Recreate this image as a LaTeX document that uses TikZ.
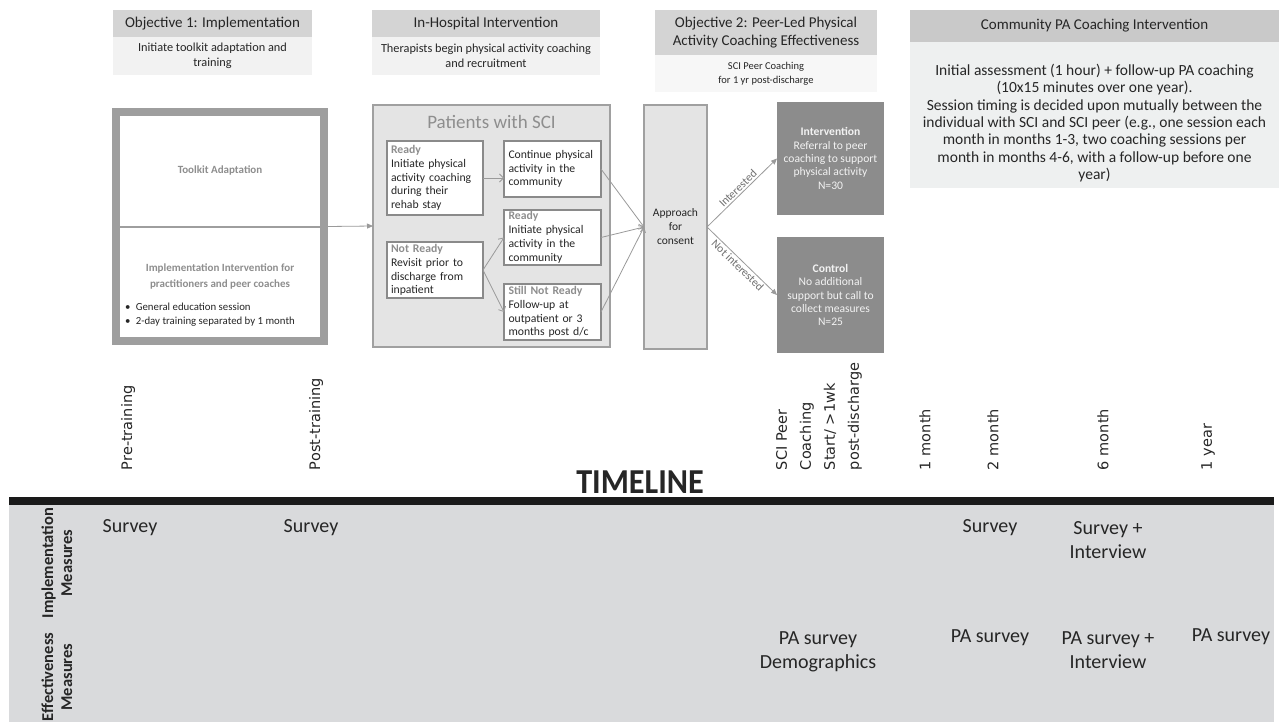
\documentclass[tikz,border=0pt]{standalone}
\usepackage{fontspec}
\setmainfont{Carlito}
\newfontfamily\tlfont{DejaVu Sans}
\usetikzlibrary{arrows.meta}
\definecolor{txt}{HTML}{262626}
\definecolor{hdrgray}{HTML}{D4D4D4}
\definecolor{subgray}{HTML}{F2F2F2}
\definecolor{tkgray}{HTML}{9E9E9E}
\definecolor{patfill}{HTML}{E4E4E4}
\definecolor{patdraw}{HTML}{A0A0A0}
\definecolor{inborder}{HTML}{8A8A8A}
\definecolor{lblgray}{HTML}{8E8E8E}
\definecolor{intfill}{HTML}{8C8C8C}
\definecolor{inttext}{HTML}{F2F2F2}
\definecolor{comhdr}{HTML}{C9C9C9}
\definecolor{combody}{HTML}{EEF0F0}
\definecolor{tblgray}{HTML}{D9DADC}
\definecolor{barblack}{HTML}{1A1A1A}
\definecolor{arrgray}{HTML}{9A9A9A}
\definecolor{arrtxt}{HTML}{6E6E6E}
\newcommand\graylbl[1]{{\color{lblgray}\bfseries #1}}
\begin{document}
\begin{tikzpicture}[x=1pt,y=-1pt,
  every node/.style={inner sep=0pt, outer sep=0pt},
  hdrbox/.style={fill=hdrgray, align=center, font=\fontsize{15}{18}\selectfont, text=txt},
  subbox/.style={fill=subgray, align=center, font=\fontsize{12.3}{14.5}\selectfont, text=txt},
  inbox/.style={draw=inborder, line width=1.2pt, fill=white, minimum width=96, text width=88, align=left, font=\fontsize{11.7}{13.8}\selectfont, text=txt},
  tktext/.style={text=lblgray, font=\bfseries\fontsize{11}{16}\selectfont, align=center},
  openarr/.style={draw=arrgray, line width=0.8pt, -{Straight Barb[length=4pt,width=8pt]}},
  fillarr/.style={draw=arrgray, line width=0.8pt, -{Triangle[length=6pt,width=5pt]}},
  arrlbl/.style={text=arrtxt, font=\fontsize{11.5}{13}\selectfont, inner sep=2pt},
  tl/.style={rotate=90, anchor=west, font=\tlfont\fontsize{14.5}{24}\selectfont, text=txt},
  tbl/.style={font=\fontsize{20}{24}\selectfont, align=center, text=txt},
  rowlbl/.style={rotate=90, align=center, font=\bfseries\fontsize{16.5}{19}\selectfont, text=txt}
]
\useasboundingbox (0,0) rectangle (1281,722);
\fill[white] (0,0) rectangle (1281,722);

% ---- headers
\node[hdrbox, minimum width=199, minimum height=27] (h1) at (212.5,23.5) {Objective 1: Implementation};
\node[subbox, minimum width=199, minimum height=38] (h1s) at (212.5,56) {Initiate toolkit adaptation and\\training};
\node[hdrbox, minimum width=228, minimum height=27] (h2) at (486,23.5) {In-Hospital Intervention};
\node[subbox, minimum width=228, minimum height=38] (h2s) at (486,56) {Therapists begin physical activity coaching\\and recruitment};
\node[hdrbox, minimum width=222, minimum height=45] (h3) at (766,32.5) {Objective 2: Peer-Led Physical\\Activity Coaching Effectiveness};
\node[subbox, fill=subgray!60!white, minimum width=222, minimum height=37, font=\fontsize{10.5}{14}\selectfont] (h3s) at (766,73.5) {SCI Peer Coaching\\for 1 yr post-discharge};
\node[fill=comhdr, minimum width=369, minimum height=32, font=\fontsize{15}{17}\selectfont, text=txt] (ch) at (1094.5,26) {Community PA Coaching Intervention};
\node[fill=combody, minimum width=369, minimum height=146] (cb) at (1094.5,115) {};
\node[align=center, font=\fontsize{15.5}{17.3}\selectfont, text=txt] (cbt) at (1094.5,123) {Initial assessment (1 hour) + follow-up PA coaching\\(10x15 minutes over one year).\\Session timing is decided upon mutually between the\\individual with SCI and SCI peer (e.g., one session each\\month in months 1-3, two coaching sessions per\\month in months 4-6, with a follow-up before one\\year)};

% ---- toolkit
\node[draw=tkgray, line width=8pt, fill=white, minimum width=208, minimum height=229, outer sep=4pt] (tk) at (220,226.5) {};
\draw[tkgray, line width=2pt] (tk.west) -- (tk.east);
\node[tktext] (tka) at (220,170) {Toolkit Adaptation};
\node[tktext] (tkb) at (220,276) {Implementation Intervention for\\practitioners and peer coaches};
\node[anchor=west, align=left, font=\fontsize{10.8}{14}\selectfont, text=txt] (tkc) at (125,315) {\textbullet\enspace General education session\\\textbullet\enspace 2-day training separated by 1 month};

% ---- patients
\node[draw=patdraw, fill=patfill, line width=1.5pt, minimum width=237, minimum height=242] (pat) at (491.5,226) {};
\node[text=lblgray, font=\fontsize{19}{22}\selectfont] (patt) at (491.5,122) {Patients with SCI};
\node[inbox, minimum height=74] (rdy) at (435,178) {\graylbl{Ready}\\Initiate physical\\activity coaching\\during their\\rehab stay};
\node[inbox, minimum height=56] (nrdy) at (435,270) {\graylbl{Not Ready}\\Revisit prior to\\discharge from\\inpatient};
\node[inbox, minimum width=97, minimum height=56] (cont) at (552.5,169) {Continue physical\\activity in the\\community};
\node[inbox, minimum width=97, minimum height=55] (rdy2) at (552.5,237.5) {\graylbl{Ready}\\Initiate physical\\activity in the\\community};
\node[inbox, minimum width=97, minimum height=56] (still) at (552.5,312) {\graylbl{Still Not Ready}\\Follow-up at\\outpatient or 3\\months post d/c};

% ---- approach and arms
\node[draw=patdraw, fill=patfill, line width=1.5pt, minimum width=63, minimum height=244, align=center, font=\fontsize{11.5}{14}\selectfont, text=txt] (app) at (675.5,227) {Approach\\for\\consent};
\node[fill=intfill, minimum width=107, minimum height=113, align=center, text=inttext, font=\fontsize{11.6}{13.3}\selectfont] (int) at (830.5,158.5) {\textbf{Intervention}\\Referral to peer\\coaching to support\\physical activity\\N=30};
\node[fill=intfill, minimum width=107, minimum height=116, align=center, text=inttext, font=\fontsize{11.6}{13.3}\selectfont] (ctl) at (830.5,295) {\textbf{Control}\\No additional\\support but call to\\collect measures\\N=25};

% ---- connectors
\draw[fillarr] (tk.east) -- (pat.west);
\draw[openarr] (rdy.east) -- (rdy.east -| cont.west);
\draw[openarr] (nrdy.east) -- (rdy2.west);
\draw[openarr] (nrdy.east) -- (still.west);
\draw[openarr] (cont.east) -- (app.west);
\draw[openarr] (rdy2.east) -- (app.west);
\draw[openarr] (still.east) -- (app.west);
\draw[fillarr] (app.east) -- node[arrlbl, sloped, above] {Interested} (int.west);
\draw[fillarr] (app.east) -- node[arrlbl, sloped, below] {Not interested} (ctl.west);

% ---- timeline
\node[tl] (lpre) at (128,470) {Pre-training};
\node[tl] (lpost) at (316,470) {Post-training};
\node[tl, align=left] (lsci) at (819,470) {SCI Peer\\Coaching\\Start/ >1wk\\post-discharge};
\node[tl] (l1m) at (925,470) {1 month};
\node[tl] (l2m) at (993,470) {2 month};
\node[tl] (l6m) at (1103,470) {6 month};
\node[tl] (l1y) at (1208,470) {1 year};
\node[font=\bfseries\fontsize{35}{40}\selectfont, xscale=0.92, text=txt] (tlt) at (640,482) {TIMELINE};

% ---- table
\fill[barblack] (9,497) rectangle (1274,505);
\fill[tblgray] (9,505) rectangle (1274,722);
\node[rowlbl] (rimp) at (57,563) {Implementation\\Measures};
\node[rowlbl] (reff) at (57,677) {Effectiveness\\Measures};
\node[tbl] (s1) at (130,528) {Survey};
\node[tbl] (s2) at (311,528) {Survey};
\node[tbl] (s3) at (990,528) {Survey};
\node[tbl] (s4) at (1108,540) {Survey +\\Interview};
\node[tbl] (e1) at (818,652) {PA survey\\Demographics};
\node[tbl] (e2) at (990,638) {PA survey};
\node[tbl] (e3) at (1108,650) {PA survey +\\Interview};
\node[tbl] (e4) at (1231,637) {PA survey};
\end{tikzpicture}
\end{document}
